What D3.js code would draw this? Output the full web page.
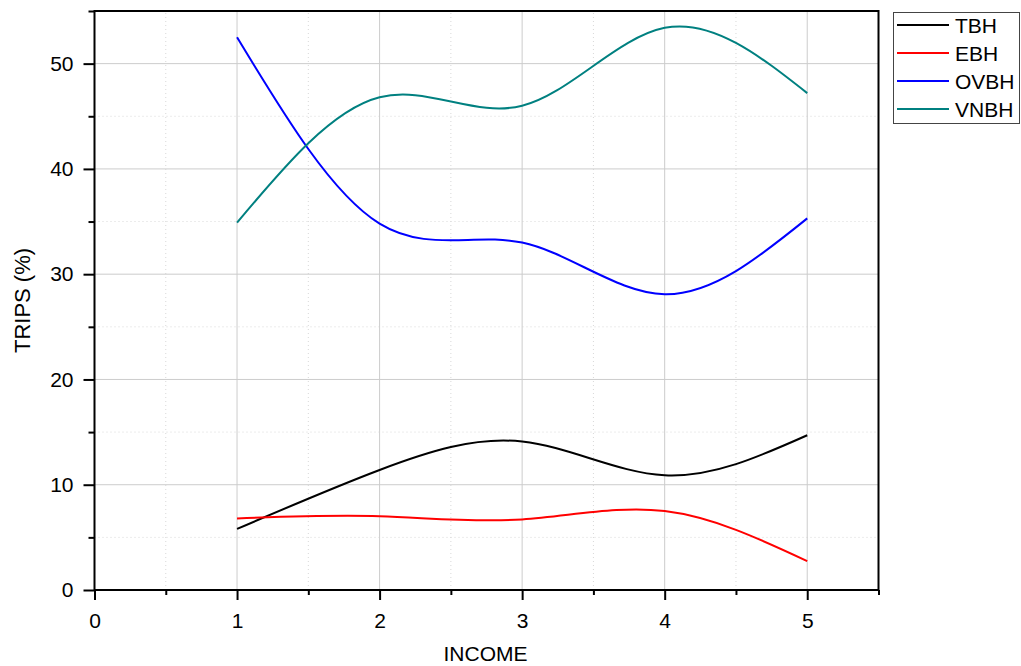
<!DOCTYPE html>
<html>
<head>
<meta charset="utf-8">
<script src="https://cdn.jsdelivr.net/npm/d3@7"></script>
<style>
  body { margin: 0; background: #fff; }
  text { font-family: "Liberation Sans", Arial, sans-serif; fill: #000; }
</style>
</head>
<body>
<div id="chart"></div>
<script>
// values
const income = [1, 2, 3, 4, 5];
const seriesNames = ['TBH', 'EBH', 'OVBH', 'VNBH'];
const seriesColors = ['#000000', '#ff0000', '#0000ff', '#008080'];
const tbh = [5.8, 11.4, 14.1, 10.9, 14.7];
const ebh = [6.8, 7.0, 6.7, 7.5, 2.75];
const ovbh = [52.5, 34.8, 33.0, 28.1, 35.3];
const vnbh = [34.9, 46.8, 46.0, 53.4, 47.2];
const xTicks = [0, 1, 2, 3, 4, 5];
const yTicks = [0, 10, 20, 30, 40, 50];

const width = 1021, height = 666;
const margin = { top: 11, right: 142.5, bottom: 76, left: 94.5 };

const svg = d3.select('#chart').append('svg')
    .attr('width', width)
    .attr('height', height);

const x = d3.scaleLinear().domain([0, 5.5]).range([margin.left, width - margin.right]);
const y = d3.scaleLinear().domain([0, 55]).range([height - margin.bottom, margin.top]);

// minor grid (dotted)
const xMinor = d3.range(0.5, 5.5, 1);
const yMinor = d3.range(5, 55, 10);
svg.append('g').selectAll('line').data(xMinor).enter().append('line')
    .attr('x1', d => x(d)).attr('x2', d => x(d))
    .attr('y1', y(0)).attr('y2', y(55))
    .attr('stroke', '#d8d8d8').attr('stroke-dasharray', '1,3');
svg.append('g').selectAll('line').data(yMinor).enter().append('line')
    .attr('y1', d => y(d)).attr('y2', d => y(d))
    .attr('x1', x(0)).attr('x2', x(5.5))
    .attr('stroke', '#d8d8d8').attr('stroke-dasharray', '1,3');

// major grid
svg.append('g').selectAll('line').data(xTicks.slice(1)).enter().append('line')
    .attr('x1', d => x(d)).attr('x2', d => x(d))
    .attr('y1', y(0)).attr('y2', y(55))
    .attr('stroke', '#cccccc');
svg.append('g').selectAll('line').data(yTicks.slice(1)).enter().append('line')
    .attr('y1', d => y(d)).attr('y2', d => y(d))
    .attr('x1', x(0)).attr('x2', x(5.5))
    .attr('stroke', '#cccccc');

// lines
const allSeries = [tbh, ebh, ovbh, vnbh];
const line = d3.line()
    .x((d, i) => x(income[i]))
    .y(d => y(d))
    .curve(d3.curveNatural);

svg.append('g').selectAll('path').data(allSeries).enter().append('path')
    .attr('d', d => line(d))
    .attr('fill', 'none')
    .attr('stroke', (d, i) => seriesColors[i])
    .attr('stroke-width', 2);

// axes
const xAxis = svg.append('g')
    .attr('transform', `translate(0,${y(0)})`)
    .call(d3.axisBottom(x).tickValues(xTicks).tickSize(10).tickPadding(13).tickFormat(d3.format('d')));
const xAxisMinor = svg.append('g')
    .attr('transform', `translate(0,${y(0)})`)
    .call(d3.axisBottom(x).tickValues(d3.range(0.5, 6, 1)).tickSize(5).tickFormat(''));
const yAxis = svg.append('g')
    .attr('transform', `translate(${x(0)},0)`)
    .call(d3.axisLeft(y).tickValues(yTicks).tickSize(11).tickPadding(10).tickFormat(d3.format('d')));
const yAxisMinor = svg.append('g')
    .attr('transform', `translate(${x(0)},0)`)
    .call(d3.axisLeft(y).tickValues(d3.range(5, 60, 10)).tickSize(6).tickFormat(''));

[xAxis, xAxisMinor, yAxis, yAxisMinor].forEach(g => {
    g.select('.domain').remove();
    g.selectAll('.tick line').attr('stroke', '#000').attr('stroke-width', 2);
    g.selectAll('.tick text').style('font-size', '21px').style('font-family', '"Liberation Sans", Arial, sans-serif');
});

// frame
svg.append('rect')
    .attr('x', x(0)).attr('y', y(55))
    .attr('width', x(5.5) - x(0)).attr('height', y(0) - y(55))
    .attr('fill', 'none').attr('stroke', '#000').attr('stroke-width', 2);

// axis titles
svg.append('text')
    .attr('x', (x(0) + x(5.5)) / 2 - 1).attr('y', 661)
    .attr('text-anchor', 'middle')
    .style('font-size', '21px')
    .text('INCOME');
svg.append('text')
    .attr('transform', `translate(30,${(y(0) + y(55)) / 2}) rotate(-90)`)
    .attr('text-anchor', 'middle')
    .style('font-size', '22px')
    .text('TRIPS (%)');

// legend
const legend = svg.append('g').attr('transform', 'translate(893,12)');
legend.append('rect')
    .attr('x', 0.5).attr('y', 0.5).attr('width', 126).attr('height', 111)
    .attr('fill', '#fff').attr('stroke', '#444').attr('stroke-width', 1);
const items = legend.selectAll('g.item').data(seriesNames).enter().append('g')
    .attr('class', 'item')
    .attr('transform', (d, i) => `translate(0,${13 + i * 28})`);
items.append('line')
    .attr('x1', 4).attr('x2', 56)
    .attr('stroke', (d, i) => seriesColors[i]).attr('stroke-width', 2);
items.append('text')
    .attr('x', 62).attr('dy', '0.36em')
    .style('font-size', '21px')
    .text(d => d);
</script>
</body>
</html>
